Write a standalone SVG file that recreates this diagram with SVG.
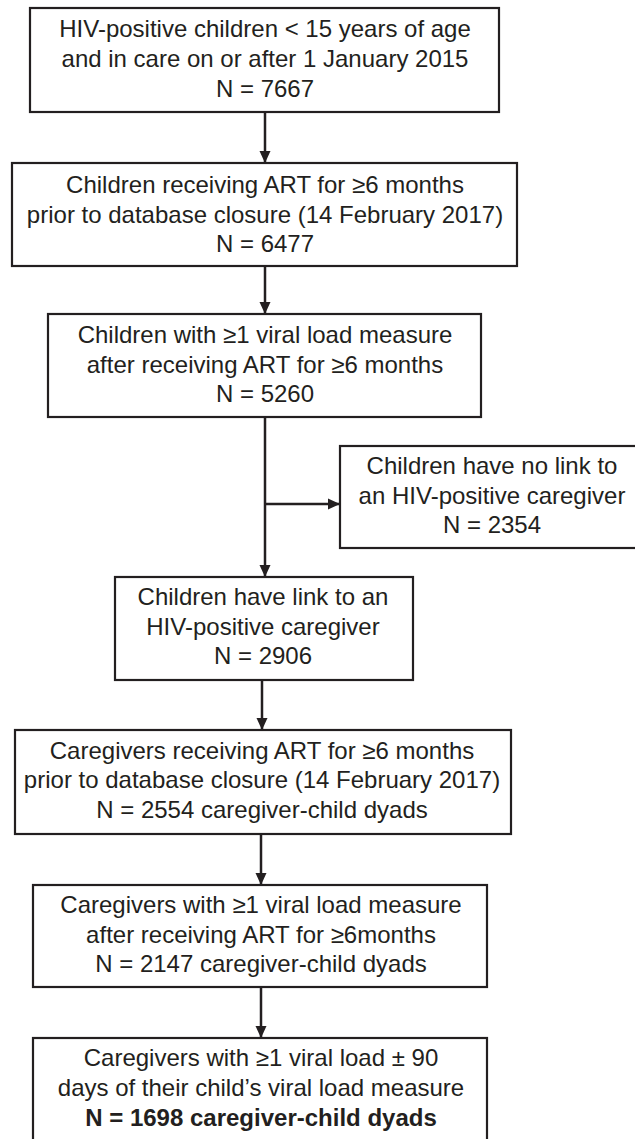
<svg xmlns="http://www.w3.org/2000/svg" width="635" height="1139" viewBox="0 0 635 1139">
<style>
.box{fill:#fff;stroke:#231f20;stroke-width:2.2}
.t{font-family:"Liberation Sans",Arial,sans-serif;font-size:24px;fill:#231f20;text-anchor:middle}
.b{font-weight:bold}
.c{stroke:#231f20;stroke-width:2.5;fill:none}
</style>
<defs>
<marker id="ah" viewBox="0 0 12 12" refX="12" refY="6" markerWidth="12" markerHeight="12" markerUnits="userSpaceOnUse" orient="auto">
<path d="M0,0.5 L12,6 L0,11.5 z" fill="#231f20"/>
</marker>
</defs>
<rect width="635" height="1139" fill="#fff"/>
<g id="connectors">
<line class="c" x1="265" y1="112" x2="265" y2="163" marker-end="url(#ah)"/>
<line class="c" x1="265" y1="266" x2="265" y2="314" marker-end="url(#ah)"/>
<line class="c" x1="265" y1="417" x2="265" y2="577" marker-end="url(#ah)"/>
<line class="c" x1="265" y1="504" x2="340" y2="504" marker-end="url(#ah)"/>
<line class="c" x1="262" y1="680" x2="262" y2="730" marker-end="url(#ah)"/>
<line class="c" x1="261" y1="834" x2="261" y2="885" marker-end="url(#ah)"/>
<line class="c" x1="261" y1="987" x2="261" y2="1038" marker-end="url(#ah)"/>
</g>
<g id="n1">
<rect class="box" x="30" y="8" width="469" height="104"/>
<text class="t" x="265" y="37">HIV-positive children &lt; 15 years of age</text>
<text class="t" x="265" y="67">and in care on or after 1 January 2015</text>
<text class="t" x="265" y="97">N = 7667</text>
</g>
<g id="n2">
<rect class="box" x="12" y="163" width="505" height="103"/>
<text class="t" x="265" y="193">Children receiving ART for ≥6 months</text>
<text class="t" x="265" y="223">prior to database closure (14 February 2017)</text>
<text class="t" x="265" y="252">N = 6477</text>
</g>
<g id="n3">
<rect class="box" x="48" y="314" width="433" height="103"/>
<text class="t" x="265" y="343">Children with ≥1 viral load measure</text>
<text class="t" x="265" y="373">after receiving ART for ≥6 months</text>
<text class="t" x="265" y="402">N = 5260</text>
</g>
<g id="n_side">
<rect class="box" x="340" y="446" width="310" height="102"/>
<text class="t" x="492" y="474">Children have no link to</text>
<text class="t" x="492" y="504">an HIV-positive caregiver</text>
<text class="t" x="492" y="533">N = 2354</text>
</g>
<g id="n4">
<rect class="box" x="115" y="577" width="298" height="103"/>
<text class="t" x="263" y="605">Children have link to an</text>
<text class="t" x="263" y="635">HIV-positive caregiver</text>
<text class="t" x="263" y="664">N = 2906</text>
</g>
<g id="n5">
<rect class="box" x="15" y="730" width="496" height="104"/>
<text class="t" x="262" y="759">Caregivers receiving ART for ≥6 months</text>
<text class="t" x="262" y="788">prior to database closure (14 February 2017)</text>
<text class="t" x="262" y="818">N = 2554 caregiver-child dyads</text>
</g>
<g id="n6">
<rect class="box" x="33" y="885" width="454" height="102"/>
<text class="t" x="261" y="913">Caregivers with ≥1 viral load measure</text>
<text class="t" x="261" y="943">after receiving ART for ≥6months</text>
<text class="t" x="261" y="972">N = 2147 caregiver-child dyads</text>
</g>
<g id="n7">
<rect class="box" x="33" y="1038" width="454" height="115"/>
<text class="t" x="261" y="1066">Caregivers with ≥1 viral load ± 90</text>
<text class="t" x="261" y="1096">days of their child’s viral load measure</text>
<text class="t b" x="261" y="1126">N = 1698 caregiver-child dyads</text>
</g>
</svg>
